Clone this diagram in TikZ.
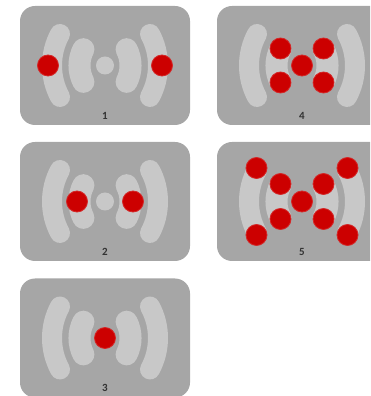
\documentclass[tikz,border=0pt]{standalone}
\usepackage{fontspec}
\setmainfont{Carlito}
\definecolor{panelgray}{RGB}{166,166,166}
\definecolor{wavegray}{RGB}{200,200,200}
\definecolor{dotred}{RGB}{204,0,0}
\tikzset{
  panelbox/.style={shape=rectangle, fill=panelgray, rounded corners=15pt, minimum width=170pt, minimum height=119pt, inner sep=0pt},
  wave/.style={draw=wavegray, line width=20pt, line cap=round},
  innerwave/.style={wave, line width=22pt},
  hubdot/.style={shape=circle, fill=wavegray, minimum size=18pt, inner sep=0pt},
  reddot/.style={shape=circle, fill=dotred, draw=dotred!85, line width=0.8pt, minimum size=21pt, inner sep=0pt},
  panellabel/.style={font=\fontsize{11}{13}\selectfont\bfseries, text=black!80, inner sep=0pt}
}
\begin{document}
\begin{tikzpicture}[x=1pt,y=1pt]
\useasboundingbox (0,0) rectangle (370,396);
\clip (0,0) rectangle (370,396);
% panels with waves
\foreach \cx/\cy/\num in {105/330.5/1, 105/194.5/2, 105/58/3, 302/330.5/4, 302/194.5/5} {
  \node[panelbox] (panel\num) at (\cx,\cy) {};
  \begin{scope}[shift={(\cx,\cy)}]
    \draw[wave] (-45,31.5) arc (151.5:208.5:66);
    \draw[wave] (45,31.5) arc (28.5:-28.5:66);
    \draw[innerwave] (-21.6,16.3) arc (153:207:36);
    \draw[innerwave] (21.6,16.3) arc (27:-27:36);
    \node[hubdot] (hub\num) at (0,0) {};
    \node[panellabel] (label\num) at (0,-50) {\num};
  \end{scope}
}
% dots of panel 1
\node[reddot] (p1a) at (48,330.5) {};
\node[reddot] (p1b) at (162,330.5) {};
% dots of panel 2
\node[reddot] (p2a) at (77,194.5) {};
\node[reddot] (p2b) at (133,194.5) {};
% dot of panel 3
\node[reddot] (p3a) at (105,58) {};
% dots of panel 4
\node[reddot] (p4a) at (302,330.5) {};
\node[reddot] (p4b) at (280.5,347.5) {};
\node[reddot] (p4c) at (323.5,347.5) {};
\node[reddot] (p4d) at (280.5,313.5) {};
\node[reddot] (p4e) at (323.5,313.5) {};
% dots of panel 5
\node[reddot] (p5a) at (302,194.5) {};
\node[reddot] (p5b) at (280.5,212) {};
\node[reddot] (p5c) at (323.5,212) {};
\node[reddot] (p5d) at (280.5,177) {};
\node[reddot] (p5e) at (323.5,177) {};
\node[reddot] (p5f) at (256.5,228) {};
\node[reddot] (p5g) at (347.5,228) {};
\node[reddot] (p5h) at (256.5,161) {};
\node[reddot] (p5i) at (347.5,161) {};
\end{tikzpicture}
\end{document}
